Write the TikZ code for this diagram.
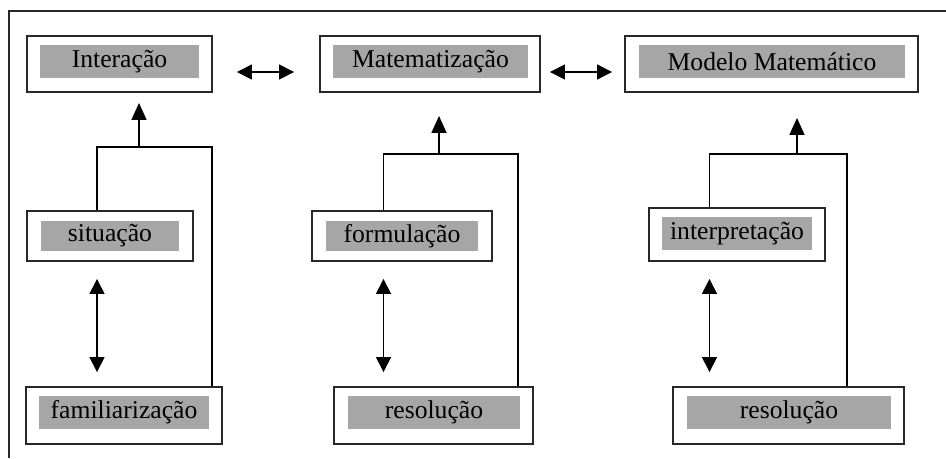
\documentclass[tikz,border=0pt]{standalone}
\usepackage{fontspec}
\setmainfont{Liberation Serif}
\usepackage{tikz}
\usetikzlibrary{arrows.meta,positioning,calc}
\definecolor{boxgray}{RGB}{166,166,166}
\definecolor{linegray}{RGB}{40,40,40}

\tikzset{
  outerbox/.style={draw=linegray, line width=1.1pt, fill=white, inner sep=0pt},
  graybox/.style={fill=boxgray, inner sep=0pt, font=\fontsize{14.6}{16}\selectfont},
  link/.style={draw=black, line width=0.9pt},
  uparrow/.style={link, -{Triangle[length=3.4mm,width=3mm]}},
  dblarrow/.style={link, {Triangle[length=3mm,width=3mm]}-{Triangle[length=3mm,width=3mm]}}
}

\begin{document}
\begin{tikzpicture}[x=0.02cm, y=-0.02cm]
    \useasboundingbox (0,0) rectangle (946,458);

    % Frame
    \draw[linegray, line width=1.1pt] (9,458) -- (9,11) -- (946,11);

    % Top row
    \node[outerbox, minimum width=3.70cm, minimum height=1.12cm] (int) at (119.5,64) {};
    \node[graybox, minimum width=3.18cm, minimum height=0.66cm] (intt) at (119.5,61.5) {Interação};
    \node[outerbox, minimum width=4.40cm, minimum height=1.12cm] (mat) at (430,64) {};
    \node[graybox, minimum width=3.90cm, minimum height=0.66cm] (matt) at (430.5,61.5) {Matematização};
    \node[outerbox, minimum width=5.86cm, minimum height=1.12cm] (mod) at (771.5,64) {};
    \node[graybox, minimum width=5.32cm, minimum height=0.66cm] (modt) at (772,61.5) {Modelo Matemático};

    % Middle row
    \node[outerbox, minimum width=3.32cm, minimum height=1.00cm] (sit) at (110,236) {};
    \node[graybox, minimum width=2.76cm, minimum height=0.60cm] (sitt) at (110,236) {situação};
    \node[outerbox, minimum width=3.60cm, minimum height=1.00cm] (form) at (402,236) {};
    \node[graybox, minimum width=3.04cm, minimum height=0.60cm] (formt) at (402,236) {formulação};
    \node[outerbox, minimum width=3.52cm, minimum height=1.06cm] (interp) at (737,234.5) {};
    \node[graybox, minimum width=3.00cm, minimum height=0.66cm] (interpt) at (737,233.5) {interpretação};

    % Bottom row
    \node[outerbox, minimum width=3.92cm, minimum height=1.14cm] (fam) at (124,415.5) {};
    \node[graybox, minimum width=3.40cm, minimum height=0.66cm] (famt) at (124,412.5) {familiarização};
    \node[outerbox, minimum width=3.98cm, minimum height=1.14cm] (resa) at (433.5,415.5) {};
    \node[graybox, minimum width=3.44cm, minimum height=0.66cm] (resat) at (434,412.5) {resolução};
    \node[outerbox, minimum width=4.62cm, minimum height=1.14cm] (resb) at (788.5,415.5) {};
    \node[graybox, minimum width=4.08cm, minimum height=0.66cm] (resbt) at (789,412.5) {resolução};

    % Arrows between top boxes
    \draw[dblarrow, shorten <=0.48cm, shorten >=0.50cm] ([yshift=-0.16cm]int.east) -- ([yshift=-0.16cm]mat.west);
    \draw[dblarrow, shorten <=0.18cm, shorten >=0.24cm] ([yshift=-0.16cm]mat.east) -- ([yshift=-0.16cm]mod.west);

    % Left column
    \coordinate (baral) at (97,147);
    \coordinate (barar) at (212,147);
    \coordinate (baram) at (139,147);
    \draw[link] (sit.north -| baral) -- (baral) -- (barar) -- (fam.north -| barar);
    \draw[uparrow, shorten >=0.2cm] (baram) -- (int.south -| baram);
    \draw[dblarrow, shorten <=0.34cm, shorten >=0.28cm] (sit.south -| baral) -- (fam.north -| baral);

    % Middle column
    \coordinate (barbl) at (383.5,154);
    \coordinate (barbr) at (518,154);
    \coordinate (barbm) at (439,154);
    \draw[link] (form.north -| barbl) -- (barbl) -- (barbr) -- (resa.north -| barbr);
    \draw[uparrow, shorten >=0.46cm] (barbm) -- (mat.south -| barbm);
    \draw[dblarrow, shorten <=0.34cm, shorten >=0.28cm] (form.south -| barbl) -- (resa.north -| barbl);

    % Right column
    \coordinate (barcl) at (709.5,154);
    \coordinate (barcr) at (847,154);
    \coordinate (barcm) at (797,154);
    \draw[link] (interp.north -| barcl) -- (barcl) -- (barcr) -- (resb.north -| barcr);
    \draw[uparrow, shorten >=0.5cm] (barcm) -- (mod.south -| barcm);
    \draw[dblarrow, shorten <=0.34cm, shorten >=0.28cm] (interp.south -| barcl) -- (resb.north -| barcl);
\end{tikzpicture}
\end{document}
